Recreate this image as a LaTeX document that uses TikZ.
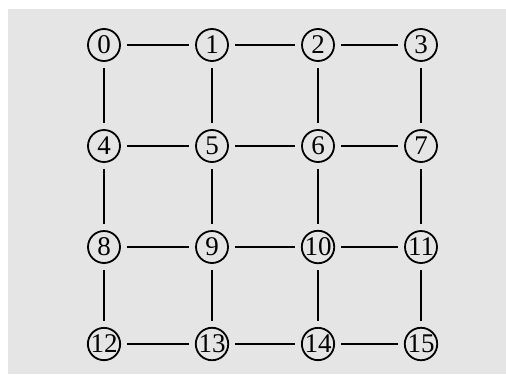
\documentclass[tikz,border=0pt]{standalone}
\usepackage{fontspec}
\setmainfont{Liberation Serif}
\usetikzlibrary{positioning}
\definecolor{panel}{RGB}{229,229,229}
\tikzset{
  vtx/.style={circle,draw=black,line width=0.9pt,inner sep=0pt,minimum size=16pt,
    font=\fontsize{13.5}{14}\selectfont},
  link/.style={line width=1pt,draw=black,shorten <=3pt,shorten >=3pt},
}
\begin{document}
\begin{tikzpicture}[x=0.5pt,y=-0.5pt]
  \useasboundingbox (0,0) rectangle (506,374);
  \fill[panel] (8,9) rectangle (506,374);
  % grid of numbered vertices
  \foreach \r/\y in {0/45,1/146,2/247,3/344}
    \foreach \c/\x in {0/104,1/212,2/318,3/421}{
      \pgfmathtruncatemacro{\k}{4*\r+\c}
      \node[vtx] (n\k) at (\x,\y) {\k};
    }
  % horizontal links
  \foreach \a in {0,1,2,4,5,6,8,9,10,12,13,14}{
    \pgfmathtruncatemacro{\b}{\a+1}
    \draw[link] (n\a) -- (n\b);
  }
  % vertical links
  \foreach \a in {0,...,11}{
    \pgfmathtruncatemacro{\b}{\a+4}
    \draw[link] (n\a) -- (n\b);
  }
\end{tikzpicture}
\end{document}
